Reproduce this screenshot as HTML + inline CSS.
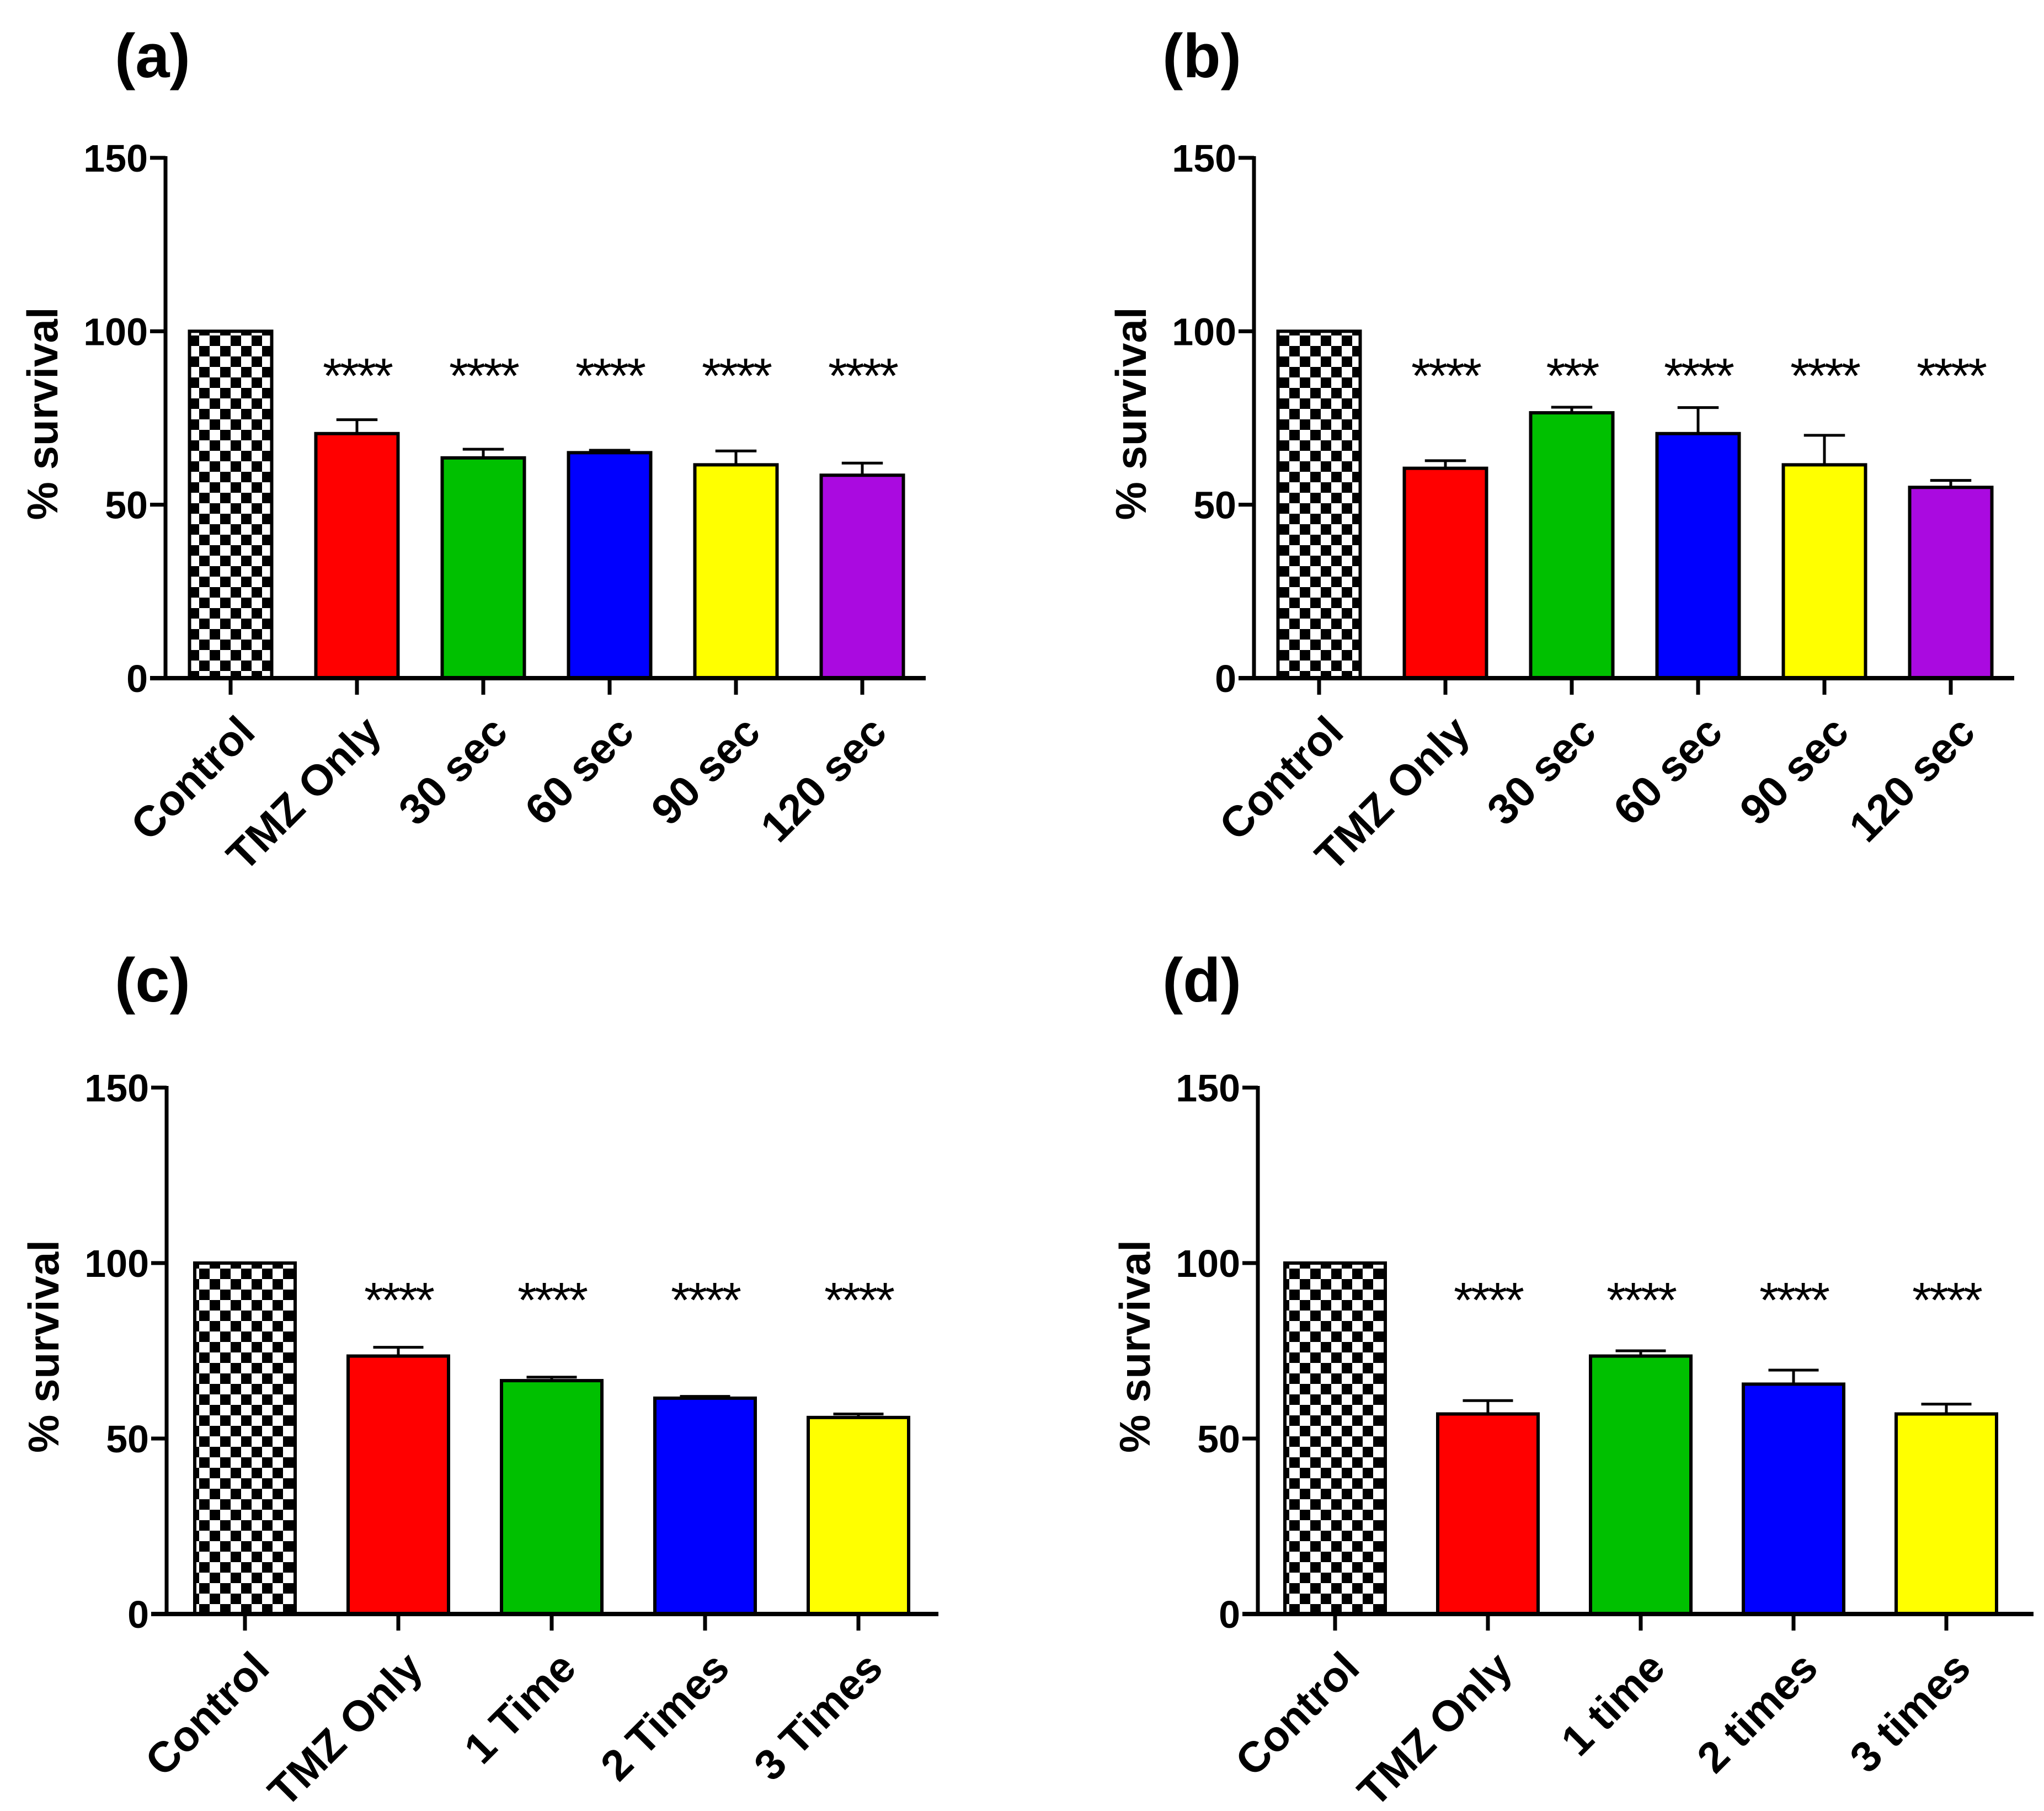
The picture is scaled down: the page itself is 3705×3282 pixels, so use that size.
<!DOCTYPE html>
<html><head><meta charset="utf-8">
<style>
html,body{margin:0;padding:0;background:#fff;}
svg{display:block;font-family:"Liberation Sans",Arial,sans-serif;font-weight:bold;}
</style></head>
<body>
<svg id="fig" width="3705" height="3282" viewBox="0 0 3705 3282" xmlns="http://www.w3.org/2000/svg">
<defs>
<pattern id="checker" width="38" height="38" patternUnits="userSpaceOnUse">
<rect width="38" height="38" fill="#fff"/>
<rect width="19" height="19" fill="#000"/>
<rect x="19" y="19" width="19" height="19" fill="#000"/>
</pattern>
</defs>
</svg>
<script>
// ----- data -----
const catsA = ["Control","TMZ Only","30 sec","60 sec","90 sec","120 sec"];
const valsA = [100,70.5,63.5,65,61.5,58.5];
const errA  = [0,4,2.5,0.7,4,3.5];
const starsA = ["","****","****","****","****","****"];

const catsB = ["Control","TMZ Only","30 sec","60 sec","90 sec","120 sec"];
const valsB = [100,60.5,76.5,70.5,61.5,55];
const errB  = [0,2.2,1.6,7.5,8.5,2];
const starsB = ["","****","***","****","****","****"];

const catsC = ["Control","TMZ Only","1 Time","2 Times","3 Times"];
const valsC = [100,73.5,66.5,61.5,56];
const errC  = [0,2.5,1,0.5,1];
const starsC = ["","****","****","****","****"];

const catsD = ["Control","TMZ Only","1 time","2 times","3 times"];
const valsD = [100,57,73.5,65.5,57];
const errD  = [0,3.8,1.5,4,2.8];
const starsD = ["","****","****","****","****"];

const yTicks = [0,50,100,150];
const colors6 = ["url(#checker)","#ff0000","#00c000","#0000ff","#ffff00","#aa0ae0"];

const NS="http://www.w3.org/2000/svg";
const svg=document.getElementById('fig');
function mk(tag,attrs,parent,text){const e=document.createElementNS(NS,tag);for(const k in attrs)e.setAttribute(k,attrs[k]);if(text!==undefined)e.textContent=text;(parent||svg).appendChild(e);return e;}

function panel(id,label,cats,vals,errs,stars,L){
  const g=mk('g',{});
  
  
  const y=v=>L.y0-(v/150)*(L.y0-L.y150);
  const x=i=>L.x0c+i*L.step;
  const t=mk('text',{x:L.lx,y:L.ly,'font-size':112},g,label);
  
  
  vals.forEach((v,i)=>{
    const cx=x(i);
    const r=mk('rect',{x:cx-L.bw/2,y:y(v),width:L.bw,height:L.y0-y(v),fill:colors6[i],stroke:'#000','stroke-width':6},g);
    
    
    if(errs[i]>0){
      const e=mk('path',{d:`M${cx} ${y(v)} V${y(v+errs[i])} M${cx-L.bw/4} ${y(v+errs[i])} H${cx+L.bw/4}`,stroke:'#000','stroke-width':5,fill:'none'},g);
      
      
    }
    if(stars[i]){
      const s=mk('text',{x:cx,y:L.starY,'font-size':90,'text-anchor':'middle','font-weight':'normal','letter-spacing':'-4'},g,stars[i]);
      
      
    }
    const tk=mk('line',{x1:cx,x2:cx,y1:L.y0,y2:L.y0+30,stroke:'#000','stroke-width':7},g);
    
    
    const lb=mk('text',{transform:`translate(${cx+8},${L.y0+62}) rotate(-45)`,'font-size':78,'text-anchor':'end','dominant-baseline':'hanging'},g,cats[i]);
    
    
  });
  const ya=mk('line',{x1:L.ax,x2:L.ax,y1:L.y150-3,y2:L.y0+3,stroke:'#000','stroke-width':7},g);
  
  
  const xa=mk('line',{x1:L.ax-28,x2:L.xend,y1:L.y0,y2:L.y0,stroke:'#000','stroke-width':8},g);
  
  
  yTicks.forEach(v=>{
    const tl=mk('line',{x1:L.ax-28,x2:L.ax,y1:y(v),y2:y(v),stroke:'#000','stroke-width':7},g);
    
    
    const tt=mk('text',{x:L.ax-32,y:y(v)+25,'font-size':70,'text-anchor':'end'},g,String(v));
    
    
  });
  const yt=mk('text',{transform:`translate(${L.ax-196},${(y(50)+y(100))/2-8}) rotate(-90)`,'font-size':78,'text-anchor':'middle'},g,'% survival');
  
  
}

panel('a','(a)',catsA,valsA,errA,starsA,{lx:208,ly:140,ax:300,y0:1229,y150:286,x0c:418,step:229,bw:149,xend:1678,starY:712});
panel('b','(b)',catsB,valsB,errB,starsB,{lx:2107,ly:140,ax:2273,y0:1229,y150:286,x0c:2391,step:229,bw:149,xend:3651,starY:712});
panel('c','(c)',catsC,valsC,errC,starsC,{lx:208,ly:1815,ax:302,y0:2925,y150:1971,x0c:444,step:278,bw:182,xend:1701,starY:2387});
panel('d','(d)',catsD,valsD,errD,starsD,{lx:2107,ly:1815,ax:2280,y0:2925,y150:1971,x0c:2420,step:277,bw:182,xend:3686,starY:2387});
</script>
</body></html>
